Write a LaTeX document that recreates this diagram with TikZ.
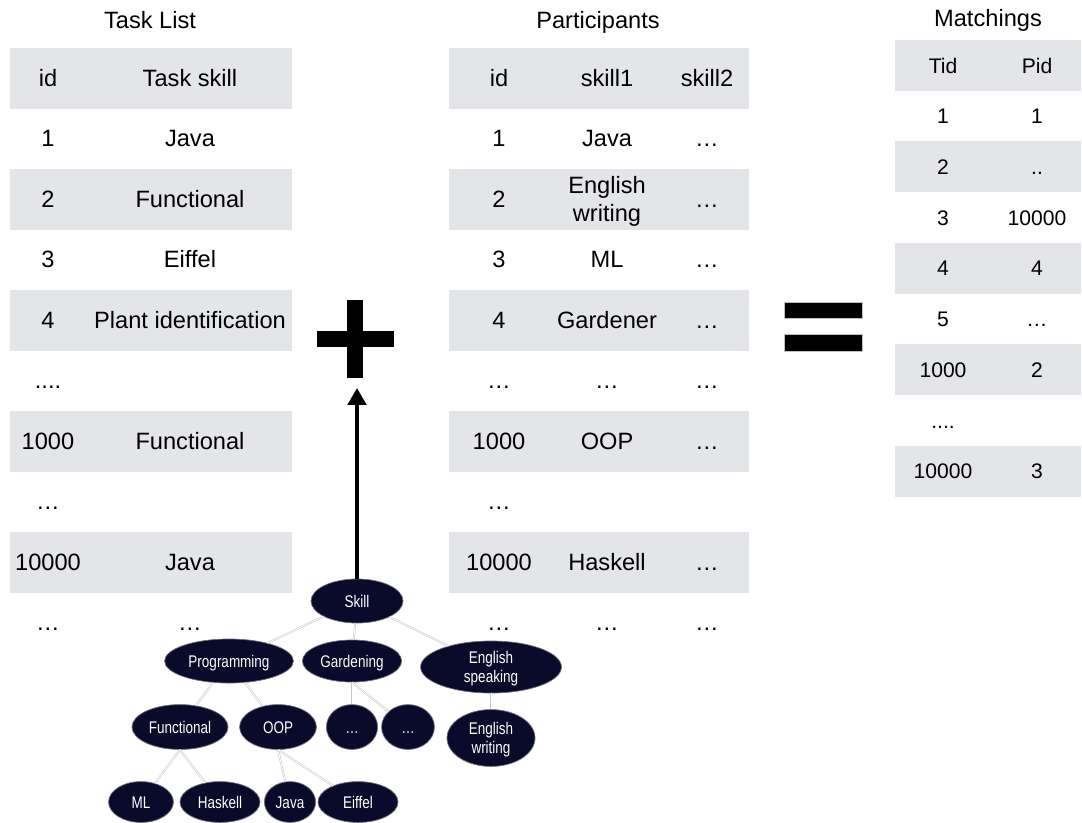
\documentclass[tikz,border=0pt]{standalone}
\usepackage{fontspec}
\setmainfont{Liberation Sans}
\usepackage{graphicx}
\usetikzlibrary{shapes.geometric}
\usetikzlibrary{arrows.meta}
\definecolor{rowgray}{RGB}{228,229,233}
\definecolor{navy}{RGB}{10,10,42}
\newcommand{\narrow}[1]{\scalebox{0.8}[1]{#1}}
\tikzset{
    cell/.style={font=\fontsize{16.8}{20}\selectfont, inner sep=0pt, align=center, text height=12pt, text depth=0pt},
    mcell/.style={font=\fontsize{15}{18}\selectfont, inner sep=0pt, text height=10.8pt, text depth=0pt},
    skillnode/.style={ellipse, fill=navy, draw=navy!60!white, line width=0.5pt, text=white, inner sep=0pt, align=center, font=\fontsize{12}{14}\selectfont, text height=8.6pt, text depth=0pt},
    twolines/.style={text height=#1},
    treeedge/.style={draw=gray!45, double=white, double distance=0.6pt, line width=0.4pt}
}

\begin{document}
\begin{tikzpicture}[x=0.025cm, y=-0.025cm]
\useasboundingbox (0,0) rectangle (1082,822);

% row stripes
\foreach \i in {0,2,4,6,8} {
    \fill[rowgray] (10,{48+60.5*\i}) rectangle (292,{108.5+60.5*\i});
    \fill[rowgray] (449,{48+60.5*\i}) rectangle (749,{108.5+60.5*\i});
    \fill[rowgray] (895,{40+50.7*\i}) rectangle (1081,{91+50.7*\i});
}

% titles
\node[cell] (tasktitle) at (150,20) {Task List};
\node[cell] (parttitle) at (598,20) {Participants};
\node[cell] (matchtitle) at (988,18) {Matchings};

% task list
\foreach \i/\a/\b in {0/id/{Task skill}, 1/1/Java, 2/2/Functional, 3/3/Eiffel, 4/4/{Plant identification}, 5/{....}/{}, 6/1000/Functional, 7/{…}/{}, 8/10000/Java, 9/{…}/{…}} {
    \node[cell] (taskid\i) at (48,{78+60.5*\i}) {\a};
    \node[cell] (taskskill\i) at (190,{78+60.5*\i}) {\b};
}

% participants
\foreach \i/\a/\b/\c in {0/id/skill1/skill2, 1/1/Java/{…}, 3/3/ML/{…}, 4/4/Gardener/{…}, 5/{…}/{…}/{…}, 6/1000/OOP/{…}, 7/{…}/{}/{}, 8/10000/Haskell/{…}, 9/{…}/{…}/{…}} {
    \node[cell] (partid\i) at (499,{78+60.5*\i}) {\a};
    \node[cell] (partskill\i) at (607,{78+60.5*\i}) {\b};
    \node[cell] (partmore\i) at (707,{78+60.5*\i}) {\c};
}
\node[cell] (partid2) at (499,199) {2};
\node[cell, twolines=32pt] (partskill2) at (607,199) {English\\writing};
\node[cell] (partmore2) at (707,199) {…};

% matchings
\foreach \i/\a/\b in {0/Tid/Pid, 1/1/1, 2/2/{..}, 3/3/10000, 4/4/4, 5/5/{…}, 6/1000/2, 7/{....}/{}, 8/10000/3} {
    \node[mcell] (matchtid\i) at (943,{65.5+50.7*\i}) {\a};
    \node[mcell] (matchpid\i) at (1037,{65.5+50.7*\i}) {\b};
}

% plus and equals
\fill (317,331) rectangle (394,347);
\fill (347,300) rectangle (363,378);
\filldraw[draw=gray!50, fill=black] (784,302) rectangle (862,318);
\filldraw[draw=gray!50, fill=black] (784,334) rectangle (862,351);

% skill tree
\node[skillnode, minimum width=2.3cm, minimum height=1.1cm] (skill) at (357,601) {\narrow{Skill}};
\node[skillnode, minimum width=3.22cm, minimum height=1.1cm] (prog) at (229,661) {\narrow{Programming}};
\node[skillnode, minimum width=2.48cm, minimum height=1.05cm] (garden) at (352,661) {\narrow{Gardening}};
\node[skillnode, twolines=22.6pt, minimum width=3.52cm, minimum height=1.3cm] (speak) at (491,667) {\narrow{English}\\\narrow{speaking}};
\node[skillnode, minimum width=2.4cm, minimum height=1.12cm] (func) at (180,727) {\narrow{Functional}};
\node[skillnode, minimum width=1.92cm, minimum height=1.12cm] (oop) at (278,727) {\narrow{OOP}};
\node[skillnode, minimum width=1.28cm, minimum height=1.12cm] (gdots1) at (352,727) {\narrow{…}};
\node[skillnode, minimum width=1.32cm, minimum height=1.12cm] (gdots2) at (408,727) {\narrow{…}};
\node[skillnode, twolines=22.6pt, minimum width=2.2cm, minimum height=1.42cm] (write) at (491,738) {\narrow{English}\\\narrow{writing}};
\node[skillnode, minimum width=1.62cm, minimum height=1.02cm] (ml) at (141,802) {\narrow{ML}};
\node[skillnode, minimum width=2cm, minimum height=1.02cm] (haskell) at (220,802) {\narrow{Haskell}};
\node[skillnode, minimum width=1.28cm, minimum height=1.02cm] (java) at (290,802) {\narrow{Java}};
\node[skillnode, minimum width=2cm, minimum height=1.02cm] (eiffel) at (358,802) {\narrow{Eiffel}};

\draw[treeedge] (skill) -- (prog);
\draw[treeedge] (skill) -- (garden);
\draw[treeedge] (skill) -- (speak);
\draw[treeedge] (prog) -- (func);
\draw[treeedge] (prog) -- (oop);
\draw[treeedge] (garden.south) -- (gdots1);
\draw[treeedge] (garden.south) -- (gdots2);
\draw[treeedge] (speak) -- (write);
\draw[treeedge] (func.south) -- (ml);
\draw[treeedge] (func.south) -- (haskell);
\draw[treeedge] (oop.south) -- (java);
\draw[treeedge] (oop.south) -- (eiffel);

\coordinate (plustip) at (357,388);
\draw[line width=2.8pt, -{Stealth[inset=0pt, length=12pt, width=13pt]}] (skill.north) -- (plustip);

\end{tikzpicture}
\end{document}
